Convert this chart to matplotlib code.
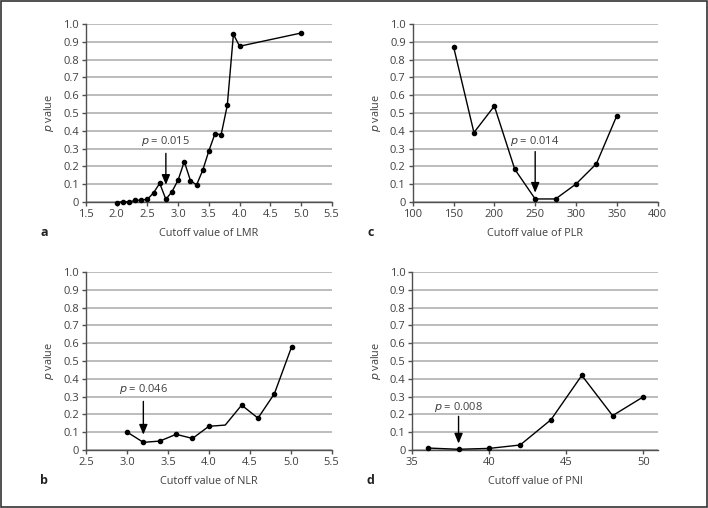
import matplotlib
matplotlib.use("Agg")
import matplotlib.pyplot as plt
from matplotlib.ticker import FuncFormatter, MultipleLocator
from matplotlib.patches import Rectangle

plt.rcParams['font.family'] = ['Open Sans', 'DejaVu Sans']

# Panel a: LMR
lmr_x = [2.0, 2.1, 2.2, 2.3, 2.4, 2.5, 2.6, 2.7, 2.8, 2.9, 3.0, 3.1, 3.2, 3.3, 3.4,
         3.5, 3.6, 3.7, 3.8, 3.9, 4.0, 5.0]
lmr_p = [-0.004, 0.002, 0.0, 0.009, 0.011, 0.015, 0.052, 0.105, 0.015, 0.058, 0.124,
         0.227, 0.12, 0.096, 0.178, 0.287, 0.384, 0.378, 0.543, 0.942, 0.875, 0.949]

# Panel c: PLR
plr_x = [150, 175, 200, 225, 250, 275, 300, 325, 350]
plr_p = [0.873, 0.39, 0.539, 0.184, 0.017, 0.017, 0.101, 0.215, 0.485]

# Panel b: NLR
nlr_x = [3.0, 3.2, 3.4, 3.6, 3.8, 4.0, 4.2, 4.4, 4.6, 4.8, 5.01]
nlr_p = [0.101, 0.043, 0.05, 0.088, 0.065, 0.133, 0.14, 0.252, 0.179, 0.316, 0.579]
nlr_marker = [True, True, True, True, True, True, False, True, True, True, True]

# Panel d: PNI
pni_x = [36, 38, 40, 42, 44, 46, 48, 50]
pni_p = [0.011, 0.004, 0.009, 0.028, 0.17, 0.419, 0.193, 0.299]

panels = [
    dict(x=lmr_x, p=lmr_p, mk=None, label="a", xlabel="Cutoff value of LMR",
         xlim=(1.5, 5.5), xstep=0.5, xfmt="{:.1f}",
         ann="0.015", ann_x=2.8, txt_y=0.342, arr_top=0.273, arr_bot=0.096,
         pos=[0.1215, 0.6024, 0.347, 0.3504]),
    dict(x=plr_x, p=plr_p, mk=None, label="c", xlabel="Cutoff value of PLR",
         xlim=(100, 400), xstep=50, xfmt="{:.0f}",
         ann="0.014", ann_x=250, txt_y=0.343, arr_top=0.283, arr_bot=0.052,
         pos=[0.5829, 0.6024, 0.346, 0.3504]),
    dict(x=nlr_x, p=nlr_p, mk=nlr_marker, label="b", xlabel="Cutoff value of NLR",
         xlim=(2.5, 5.5), xstep=0.5, xfmt="{:.1f}",
         ann="0.046", ann_x=3.2, txt_y=0.342, arr_top=0.273, arr_bot=0.086,
         pos=[0.1215, 0.1142, 0.347, 0.3504]),
    dict(x=pni_x, p=pni_p, mk=None, label="d", xlabel="Cutoff value of PNI",
         xlim=(35, 50.93), xstep=5, xfmt="{:.0f}",
         ann="0.008", ann_x=38, txt_y=0.243, arr_top=0.189, arr_bot=0.036,
         pos=[0.5824, 0.1142, 0.3466, 0.3504]),
]

fig = plt.figure(figsize=(7.08, 5.08), dpi=100)
fig.patches.append(Rectangle((0.0015, 0.002), 0.997, 0.996, transform=fig.transFigure,
                             fill=False, edgecolor="#333333", linewidth=1.2))

spine_col = "#505050"
grid_col = "#b0b0b0"
text_col = "#404040"

for pn in panels:
    ax = fig.add_axes(pn["pos"])
    ax.set_xlim(*pn["xlim"])
    ax.set_ylim(0, 1.0)
    ax.yaxis.set_major_locator(MultipleLocator(0.1))
    ax.xaxis.set_major_locator(MultipleLocator(pn["xstep"]))
    ax.yaxis.set_major_formatter(FuncFormatter(lambda v, _: "0" if abs(v) < 1e-9 else f"{v:.1f}"))
    fmt = pn["xfmt"]
    ax.xaxis.set_major_formatter(FuncFormatter(lambda v, _, f=fmt: f.format(v)))
    for s in ["top", "right"]:
        ax.spines[s].set_visible(False)
    for s in ["left", "bottom"]:
        ax.spines[s].set_color(spine_col)
        ax.spines[s].set_linewidth(1.0)
    ax.grid(axis="y", color=grid_col, linewidth=1.2)
    ax.set_axisbelow(True)
    ax.tick_params(direction="out", length=3, width=1.0, color=spine_col,
                   labelsize=8, labelcolor=text_col, pad=2)

    ax.plot(pn["x"], pn["p"], color="black", linewidth=1.0, zorder=3, clip_on=False)
    if pn["mk"] is None:
        mx, my = pn["x"], pn["p"]
    else:
        mx = [x for x, m in zip(pn["x"], pn["mk"]) if m]
        my = [y for y, m in zip(pn["p"], pn["mk"]) if m]
    ax.plot(mx, my, "o", color="black", markersize=3.0, zorder=4, clip_on=False)

    ax.annotate("", xy=(pn["ann_x"], pn["arr_bot"]), xytext=(pn["ann_x"], pn["arr_top"]),
                arrowprops=dict(arrowstyle="-|>,head_length=0.6,head_width=0.25",
                                color="black", linewidth=1.0, shrinkA=0, shrinkB=0))
    ax.text(pn["ann_x"], pn["txt_y"], "$\\it{p}$ = " + pn["ann"], ha="center", va="center",
            fontsize=8, color=text_col)

    ax.set_xlabel(pn["xlabel"], fontsize=7.8, color=text_col, labelpad=6)
    ax.set_ylabel("$\\it{p}$ value", fontsize=7.8, color=text_col, labelpad=5)
    ax.text(-0.171, -0.174, pn["label"], transform=ax.transAxes, fontsize=9,
            fontweight="bold", color="#222222", ha="center", va="center")

fig.savefig("out.png", dpi=100)
